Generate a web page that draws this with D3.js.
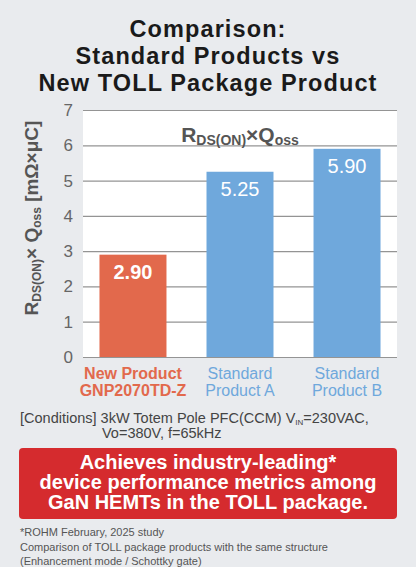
<!DOCTYPE html>
<html>
<head>
<meta charset="utf-8">
<script src="https://cdn.jsdelivr.net/npm/d3@7"></script>
<style>
  body { margin: 0; background: #e9ebee; }
  svg { display: block; font-family: "Liberation Sans", Arial, sans-serif; }
</style>
</head>
<body>
<div id="chart"></div>
<script>
// chart data
var categories = ["new", "stdA", "stdB"];
var values = [2.90, 5.25, 5.90];
var valueLabels = ["2.90", "5.25", "5.90"];
var catLine1 = ["New Product", "Standard", "Standard"];
var catLine2 = ["GNP2070TD-Z", "Product A", "Product B"];
var yTicks = [0, 1, 2, 3, 4, 5, 6, 7];
var titleLines = ["Comparison:", "Standard Products vs", "New TOLL Package Product"];
var bannerLines = ["Achieves industry-leading*", "device performance metrics among", "GaN HEMTs in the TOLL package."];
var footLines = ["*ROHM February, 2025 study",
  "Comparison of TOLL package products with the same structure",
  "(Enhancement mode / Schottky gate)"];

var W = 416, H = 567;
var orange = "#e2694c", blue = "#6fa8dc";

var svg = d3.select("#chart")
  .append("svg")
  .attr("width", W)
  .attr("height", H);

svg.append("rect").attr("width", W).attr("height", H).attr("fill", "#e9ebee");

// title
svg.append("g").selectAll("text")
  .data(titleLines)
  .enter().append("text")
  .attr("x", 208)
  .attr("y", function (d, i) { return 36.5 + i * 27.3; })
  .attr("text-anchor", "middle")
  .attr("font-size", 23.5)
  .attr("letter-spacing", 1.1)
  .attr("font-weight", "bold")
  .attr("fill", "#1a1a1a")
  .text(function (d) { return d; });

// scales
var x = d3.scaleBand()
  .domain(categories)
  .range([83, 397])
  .paddingInner(0.374)
  .paddingOuter(0.154);

var y = d3.scaleLinear()
  .domain([0, 7])
  .range([357, 110]);

// plot area
svg.append("rect")
  .attr("x", 83).attr("y", y(7))
  .attr("width", 314).attr("height", y(0) - y(7))
  .attr("fill", "#fff");

// gridlines + tick labels
var yAxis = svg.append("g")
  .attr("transform", "translate(83,0)")
  .call(d3.axisLeft(y).tickValues(yTicks).tickSize(-314).tickPadding(10).tickFormat(d3.format("d")));
yAxis.select(".domain").remove();
yAxis.selectAll(".tick line").attr("stroke", "#949494").attr("stroke-width", 1.2);
yAxis.selectAll(".tick text")
  .attr("font-size", 17)
  .attr("fill", "#666")
  .attr("font-family", "Liberation Sans, Arial, sans-serif");

// bars
svg.append("g").selectAll("rect")
  .data(values)
  .enter().append("rect")
  .attr("x", function (d, i) { return x(categories[i]); })
  .attr("y", function (d) { return y(d); })
  .attr("width", x.bandwidth())
  .attr("height", function (d) { return y(0) - y(d); })
  .attr("fill", function (d, i) { return i === 0 ? orange : blue; });

// value labels
svg.append("g").selectAll("text")
  .data(values)
  .enter().append("text")
  .attr("x", function (d, i) { return x(categories[i]) + x.bandwidth() / 2; })
  .attr("y", function (d) { return y(d) + 24; })
  .attr("text-anchor", "middle")
  .attr("font-size", 20)
  .attr("font-weight", function (d, i) { return i === 0 ? "bold" : "normal"; })
  .attr("fill", "#fff")
  .text(function (d, i) { return valueLabels[i]; });

// category labels
var catG = svg.append("g").selectAll("text")
  .data(categories)
  .enter().append("text")
  .attr("x", function (d) { return x(d) + x.bandwidth() / 2; })
  .attr("y", 379)
  .attr("text-anchor", "middle")
  .attr("font-size", 16)
  .attr("font-weight", function (d, i) { return i === 0 ? "bold" : "normal"; })
  .attr("fill", function (d, i) { return i === 0 ? orange : blue; });
catG.append("tspan")
  .attr("x", function (d) { return x(d) + x.bandwidth() / 2; })
  .text(function (d, i) { return catLine1[i]; });
catG.append("tspan")
  .attr("x", function (d) { return x(d) + x.bandwidth() / 2; })
  .attr("dy", 17)
  .text(function (d, i) { return catLine2[i]; });

// inner metric title
var inner = svg.append("text")
  .attr("x", 240).attr("y", 142)
  .attr("text-anchor", "middle")
  .attr("font-size", 21)
  .attr("font-weight", "bold")
  .attr("fill", "#555");
inner.append("tspan").text("R");
inner.append("tspan").attr("font-size", 14).attr("dy", 3).text("DS(ON)");
inner.append("tspan").attr("dy", -3).text("×Q");
inner.append("tspan").attr("font-size", 14).attr("dy", 3).text("oss");

// y axis title
var yTitle = svg.append("text")
  .attr("transform", "translate(38,218) rotate(-90)")
  .attr("text-anchor", "middle")
  .attr("font-size", 19)
  .attr("font-weight", "bold")
  .attr("fill", "#555");
yTitle.append("tspan").text("R");
yTitle.append("tspan").attr("font-size", 12).attr("dy", 3).text("DS(ON)");
yTitle.append("tspan").attr("dy", -3).text("× Q");
yTitle.append("tspan").attr("font-size", 12).attr("dy", 3).text("oss");
yTitle.append("tspan").attr("dy", -3).text(" [mΩ×μC]");

// conditions
var cond = svg.append("text")
  .attr("x", 20).attr("y", 423)
  .attr("font-size", 14.5)
  .attr("fill", "#444");
cond.append("tspan").text("[Conditions] 3kW Totem Pole PFC(CCM) V");
cond.append("tspan").attr("font-size", 8).attr("dy", 2).text("IN");
cond.append("tspan").attr("dy", -2).text("=230VAC,");
svg.append("text")
  .attr("x", 102).attr("y", 438)
  .attr("font-size", 14.5)
  .attr("fill", "#444")
  .text("Vo=380V, f=65kHz");

// red banner
svg.append("rect")
  .attr("x", 19).attr("y", 448)
  .attr("width", 378).attr("height", 71)
  .attr("rx", 4)
  .attr("fill", "#d52b2e");
svg.append("g").selectAll("text")
  .data(bannerLines)
  .enter().append("text")
  .attr("x", 208)
  .attr("y", function (d, i) { return 469 + i * 20; })
  .attr("text-anchor", "middle")
  .attr("font-size", 20)
  .attr("font-weight", "bold")
  .attr("fill", "#fff")
  .text(function (d) { return d; });

// footnotes
svg.append("g").selectAll("text")
  .data(footLines)
  .enter().append("text")
  .attr("x", 20)
  .attr("y", function (d, i) { return 536 + i * 14.5; })
  .attr("font-size", 11)
  .attr("fill", "#555")
  .text(function (d) { return d; });
</script>
</body>
</html>
